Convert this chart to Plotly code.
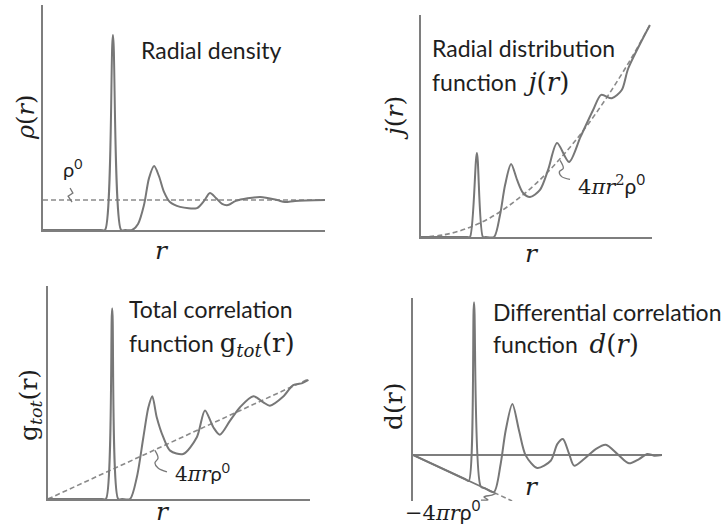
import plotly.graph_objects as go

# ---------------- data (schematic values) ----------------
# Panel 1: radial density rho(r)
r1 = [0, 2.05, 2.20, 2.48, 2.77, 2.92, 3.16, 3.37, 3.58, 3.76, 3.94, 4.11, 4.29, 4.50,
      4.86, 5.46, 5.71, 5.92, 6.13, 6.35, 6.56, 6.84, 7.70, 8.30, 8.58, 8.94, 10.0]
rho1 = [0, 0, 0, 6.5, 0, 0, 0, 0.2, 0.83, 1.73, 2.13, 1.8, 1.27, 0.93,
        0.77, 0.73, 0.97, 1.23, 1.07, 0.87, 0.83, 0.97, 1.10, 1.0, 0.93, 0.97, 1.0]
rho0_r = [0, 10]
rho0_v = [1, 1]

# Panel 2: radial distribution function j(r) and 4*pi*r^2*rho0
r2 = [0, 2.0, 2.12, 2.42, 2.68, 2.80, 3.16, 3.42, 3.64, 3.90, 4.16, 4.42, 4.72, 5.15,
      5.50, 5.89, 6.41, 6.91, 7.45, 7.80, 8.26, 8.69, 8.97, 9.91]
j2 = [0, 0, 0, 3.78, 0, 0, 0, 0.99, 2.34, 3.29, 2.57, 1.98, 1.80, 2.12,
      3.02, 4.23, 3.38, 4.52, 5.72, 6.40, 6.25, 6.62, 7.59, 9.55]
par_r = [0, 1, 2, 3, 4, 5, 6, 7, 8, 9, 9.9]
par_v = [0, 0.10, 0.39, 0.87, 1.56, 2.43, 3.50, 4.76, 6.22, 7.87, 9.53]

# Panel 3: total correlation function g_tot(r) and 4*pi*r*rho0
r3 = [0, 2.06, 2.21, 2.45, 2.68, 2.83, 3.13, 3.39, 3.64, 3.83, 3.98, 4.15, 4.40, 4.66,
      5.16, 5.68, 5.99, 6.31, 6.56, 6.95, 7.33, 7.84, 8.22, 8.47, 8.98, 9.36, 9.68, 9.94]
g3 = [0, 0, 0, 8.95, 0, 0, 0, 1.02, 2.90, 4.29, 4.82, 3.84, 2.90, 2.27,
      2.11, 2.90, 4.16, 3.37, 3.02, 3.68, 4.31, 4.82, 4.54, 4.38, 4.81, 5.35, 5.43, 5.59]
lin_r = [0, 9.94]
lin_v = [0, 5.63]

# Panel 4: differential correlation function d(r) and -4*pi*r*rho0
r4 = [0, 2.10, 2.24, 2.45, 2.72, 2.90, 3.25, 3.52, 3.72, 3.99, 4.26, 4.53, 4.99, 5.53,
      5.80, 6.02, 6.27, 6.47, 6.87, 7.34, 7.74, 8.21, 8.67, 9.08, 9.41, 9.68, 10.0]
d4 = [0, -1.14, -1.22, 7.17, -1.48, -1.57, -1.74, -0.42, 1.14, 2.39, 1.14, -0.03, -0.61, -0.27,
      0.52, 0.75, 0.05, -0.50, -0.19, 0.28, 0.48, 0.05, -0.39, -0.19, 0.05, -0.03, 0]
neg_r = [0, 3.25, 3.98]
neg_v = [0, -1.76, -2.16]

# label leader squiggles (data units of each panel)
sq1_r = [0.96, 1.06, 0.89, 1.03]
sq1_v = [1.40, 1.23, 1.13, 0.93]
sq2_r = [6.02, 6.16, 5.99, 6.09, 6.45]
sq2_v = [3.45, 3.09, 2.94, 2.72, 2.60]
sq3_r = [4.08, 4.20, 4.08, 4.20, 4.54]
sq3_v = [2.28, 1.92, 1.69, 1.46, 1.27]
sq4_r = [2.73, 3.01, 2.85, 3.17, 3.33]
sq4_v = [-2.12, -2.10, -1.97, -1.88, -1.80]

# ---------------- styling ----------------
W, H = 728, 528
CURVE = "#777777"
AXIS = "#7e7e7e"
DASH = "#8a8a8a"
TXT = "#1e1e1e"
SANS = "Lato"
SERIF = "DejaVu Serif"

fig = go.Figure()


def curve(x, y, ax, width=2.0, color=CURVE, dash=None, shape="spline", smooth=0.8):
    line = dict(color=color, width=width, shape=shape)
    if shape == "spline":
        line["smoothing"] = smooth
    if dash:
        line["dash"] = dash
    fig.add_trace(go.Scatter(x=x, y=y, mode="lines", line=line,
                             xaxis="x" + ax, yaxis="y" + ax,
                             showlegend=False, hoverinfo="skip"))


DASHPAT = "5px,3px"
# panel 1
curve(rho0_r, rho0_v, "", width=1.6, color=DASH, dash=DASHPAT, shape="linear")
curve(r1, rho1, "")
curve(sq1_r, sq1_v, "", width=1.3, color=CURVE, shape="linear")
# panel 2
curve(par_r, par_v, "2", width=1.6, color=DASH, dash=DASHPAT, smooth=1.0)
curve(r2, j2, "2")
curve(sq2_r, sq2_v, "2", width=1.3, smooth=1.0)
# panel 3
curve(lin_r, lin_v, "3", width=1.6, color=DASH, dash=DASHPAT, shape="linear")
curve(r3, g3, "3")
curve(sq3_r, sq3_v, "3", width=1.3, smooth=1.0)
# panel 4
curve(neg_r[:2], neg_v[:2], "4", width=1.8, shape="linear")
curve(neg_r[1:], neg_v[1:], "4", width=1.6, color=DASH, dash=DASHPAT, shape="linear")
curve(r4, d4, "4")
curve(sq4_r, sq4_v, "4", width=1.3, smooth=1.0)


def px_dom(a, b, total):
    return [a / total, b / total]


def py_dom(top, bottom):
    return [1 - bottom / H, 1 - top / H]


def xax(dom, anchor, showline=True):
    return dict(domain=dom, range=[0, 10], anchor=anchor, showline=showline,
                linecolor=AXIS, linewidth=1.6, showgrid=False, zeroline=False,
                showticklabels=False, ticks="", fixedrange=True)


def yax(dom, anchor, rng, zero=False):
    return dict(domain=dom, range=rng, anchor=anchor, showline=True,
                linecolor=AXIS, linewidth=1.6, showgrid=False,
                zeroline=zero, zerolinecolor=AXIS, zerolinewidth=1.6,
                showticklabels=False, ticks="", fixedrange=True)


layout = dict(
    width=W, height=H, margin=dict(l=0, r=0, t=0, b=0),
    paper_bgcolor="white", plot_bgcolor="rgba(0,0,0,0)",
    xaxis=xax(px_dom(43, 325, W), "y"),
    yaxis=yax(py_dom(5, 230), "x", [0, 7.5]),
    xaxis2=xax(px_dom(421, 652, W), "y2"),
    yaxis2=yax(py_dom(15, 237), "x2", [0, 10]),
    xaxis3=xax(px_dom(48, 310, W), "y3"),
    yaxis3=yax(py_dom(286, 499), "x3", [0, 10]),
    xaxis4=xax(px_dom(413, 662, W), "y4", showline=False),
    yaxis4=yax(py_dom(298, 501), "x4", [-2.16, 7.37], zero=True),
)


def ser(s, size):
    return ('<span style="font-family:DejaVu Serif;font-size:%dpx">' % size) + s + '</span>'


anns = []


def ann(px, py, text, size=23, family=SANS, xanchor="center", angle=0, yanchor="middle"):
    anns.append(dict(x=px / W, y=1 - py / H, xref="paper", yref="paper",
                     text=text, showarrow=False, xanchor=xanchor, yanchor=yanchor,
                     textangle=angle, font=dict(family=family, size=size, color=TXT)))


NB = "\u00a0"
# panel 1
ann(211, 50, "Radial density", 23)
ann(72, 168, "ρ<sup>0</sup>", 20)
ann(26, 118, "<i>ρ</i>(<i>r</i>)", 24, SERIF, angle=-90)
ann(162, 250, "<i>r</i>", 25, SERIF)
# panel 2
ann(430, 48, "Radial distribution", 23, xanchor="left")
ann(430, 82, "function" + NB * 2 + ser("<i>j</i>(<i>r</i>)", 26), 23, xanchor="left")
ann(576, 185, ser("4<i>π</i><i>r</i><sup>2</sup>", 21) + "ρ<sup>0</sup>", 21, xanchor="left")
ann(394, 118, "<i>j</i>(<i>r</i>)", 25, SERIF, angle=-90)
ann(532, 253, "<i>r</i>", 25, SERIF)
# panel 3
ann(127, 309, "Total correlation", 23, xanchor="left")
ann(127, 344, "function" + NB + ser("g<sub><i>tot</i></sub>(r)", 26), 23, xanchor="left")
ann(173, 472, ser("4<i>π</i><i>r</i>", 20) + "ρ<sup>0</sup>", 20, xanchor="left")
ann(30, 405, "g<sub><i>tot</i></sub>(r)", 25, SERIF, angle=-90)
ann(163, 528, "<i>r</i>", 25, SERIF, yanchor="bottom")
# panel 4
ann(491, 312, "Differential correlation", 23, xanchor="left")
ann(491, 344, "function" + NB * 2 + ser("<i>d</i>(<i>r</i>)", 26), 23, xanchor="left")
ann(403, 510, ser("−4<i>π</i><i>r</i>", 21) + "ρ<sup>0</sup>", 21, xanchor="left")
ann(393, 407, "d(r)", 25, SERIF, angle=-90)
ann(532, 486, "<i>r</i>", 25, SERIF)

layout["annotations"] = anns
fig.update_layout(**layout)
fig.write_html("out.html")
